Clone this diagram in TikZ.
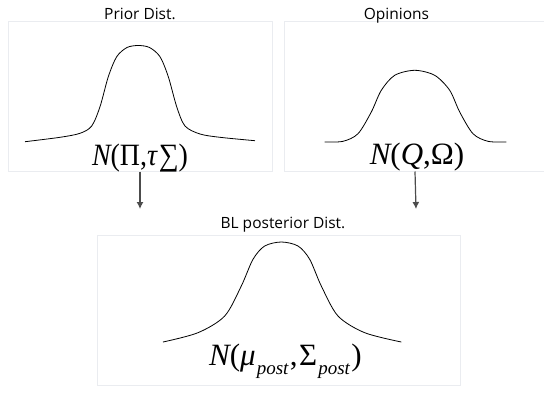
\documentclass[tikz,border=0pt]{standalone}
\usepackage{fontspec}
\usepackage{tikz}
\usetikzlibrary{arrows.meta}
\newfontfamily\labfont{Open Sans}
\newfontfamily\eqfont{Liberation Serif}
\definecolor{boxline}{RGB}{234,236,240}
\definecolor{arrline}{gray}{0.3}
\newcommand{\postsub}{\kern1pt\raisebox{-9pt}{\fontsize{19}{20}\selectfont\itshape post}\kern1.5pt}
\tikzset{
  distbox/.style={draw=boxline,line width=1pt,rectangle,inner sep=0pt},
  ttl/.style={font=\labfont\fontsize{15.5}{18}\selectfont,anchor=base,inner sep=0pt},
  eq/.style={font=\eqfont\fontsize{31}{36}\selectfont,anchor=base,inner sep=0pt},
  bell/.style={line width=0.8pt,black},
  flow/.style={draw=arrline,line width=1.2pt,-{Latex[length=7pt,width=7pt]}},
}
\begin{document}
\begin{tikzpicture}[x=1pt,y=-1pt]
  \useasboundingbox (0,0) rectangle (544,392);
  \node[distbox,minimum width=264pt,minimum height=150pt] (prior) at (140,96) {};
  \node[distbox,minimum width=262pt,minimum height=150pt] (opin) at (415,96) {};
  \node[distbox,minimum width=363pt,minimum height=150pt] (post) at (278.5,310) {};
  \node[ttl] (priort) at (140,19) {Prior Dist.};
  \node[ttl] (opint) at (396.5,19) {Opinions};
  \node[ttl] (postt) at (283,228) {BL posterior Dist.};
  \draw[bell] plot[smooth] coordinates {(25,141.7) (60,137.3) (80,133.3) (91.7,126) (100,106.7) (108.3,76.7) (116.7,56.7) (127,47.5) (138.3,45.5) (149.5,47.5) (160,56.7) (168.3,76.7) (176.7,106.7) (185,126) (200,134) (220,137.3) (255,140.7)};
  \draw[bell] plot[smooth] coordinates {(324.7,142) (343,141.3) (358,133.7) (371.3,112) (381.3,90.3) (394.7,75.3) (414.7,70.3) (434.7,75.3) (449.7,90.3) (459.7,112) (473,133.7) (488,141.3) (506.3,142)};
  \draw[bell] plot[smooth] coordinates {(163,342) (198,332.7) (224.7,316) (241.3,286) (253,259.3) (264.7,246) (281.3,242) (298,246) (309.7,259.3) (321.3,286) (338,316) (364.7,332.7) (401.3,342)};
  \node[eq,xscale=0.9] (priorlab) at (140,165) {\itshape N\upshape(Π,\itshape τ\upshape\kern2pt∑)};
  \node[eq] (opinlab) at (417,164) {\itshape N\upshape(\itshape Q\upshape,Ω)};
  \node[eq] (postlab) at (285.5,365) {\itshape N\upshape(\itshape μ\upshape\postsub,\kern1.5pt Σ\postsub)};
  \coordinate (priorend) at (140,209);
  \coordinate (opinend) at (416,209);
  \draw[flow] (prior.south) -- (priorend);
  \draw[flow] (opin.south) -- (opinend);
\end{tikzpicture}
\end{document}
